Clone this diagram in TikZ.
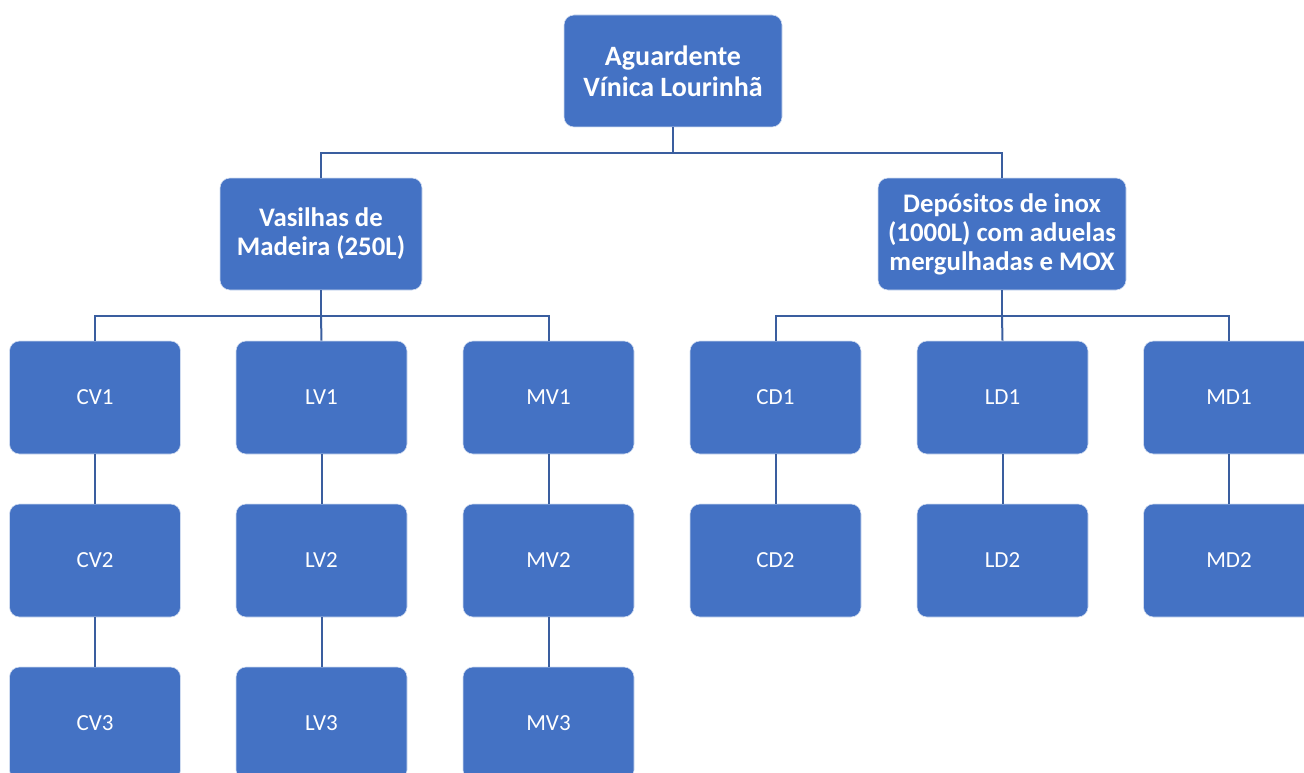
\documentclass[tikz,border=0pt]{standalone}
\usepackage{fontspec}
\setmainfont{Carlito}
\definecolor{boxblue}{HTML}{4472C4}
\definecolor{linkblue}{HTML}{3A5E9F}
\begin{document}
\begin{tikzpicture}[x=1pt,y=-1pt,
  box/.style={rectangle, rounded corners=10pt, fill=boxblue, draw=white!75!boxblue, line width=0.6pt,
    text=white, align=center, inner sep=0pt},
  head/.style={box, font=\fontsize{26.8}{29}\selectfont\bfseries, minimum height=112pt},
  leaf/.style={box, font=\fontsize{23}{28}\selectfont, minimum width=171pt, minimum height=113pt},
  link/.style={draw=linkblue, line width=2pt}]
\useasboundingbox (0,0) rectangle (1304,773);
\clip (0,0) rectangle (1304,773);
\node[head, minimum width=218pt, font=\fontsize{28}{31}\selectfont\bfseries] (top) at (673,71) {Aguardente\\V\'{\i}nica Lourinhã};
\node[head, minimum width=202pt] (vas) at (321,234) {Vasilhas de\\Madeira (250L)};
\node[head, minimum width=248pt] (dep) at (1002,234) {Depósitos de inox\\(1000L) com aduelas\\mergulhadas e MOX};
\node[leaf] (cv1) at (95,397.5) {CV1};
\node[leaf] (cv2) at (95,560.5) {CV2};
\node[leaf] (cv3) at (95,723.5) {CV3};
\node[leaf] (lv1) at (321.5,397.5) {LV1};
\node[leaf] (lv2) at (321.5,560.5) {LV2};
\node[leaf] (lv3) at (321.5,723.5) {LV3};
\node[leaf] (mv1) at (548.5,397.5) {MV1};
\node[leaf] (mv2) at (548.5,560.5) {MV2};
\node[leaf] (mv3) at (548.5,723.5) {MV3};
\node[leaf] (cd1) at (775.5,397.5) {CD1};
\node[leaf] (cd2) at (775.5,560.5) {CD2};
\node[leaf] (ld1) at (1002.5,397.5) {LD1};
\node[leaf] (ld2) at (1002.5,560.5) {LD2};
\node[leaf] (md1) at (1229,397.5) {MD1};
\node[leaf] (md2) at (1229,560.5) {MD2};
\draw[link] (top.south) -- ++(0,26) coordinate (t1) -| (vas.north);
\draw[link] (t1) -| (dep.north);
\draw[link] (vas.south) -- ++(0,26) coordinate (v1) -| (cv1.north);
\draw[link] (v1) -| (mv1.north);
\draw[link] (v1) -- (lv1.north);
\draw[link] (dep.south) -- ++(0,26) coordinate (d1) -| (cd1.north);
\draw[link] (d1) -| (md1.north);
\draw[link] (d1) -- (ld1.north);
\foreach \a/\b in {cv1/cv2,cv2/cv3,lv1/lv2,lv2/lv3,mv1/mv2,mv2/mv3,cd1/cd2,ld1/ld2,md1/md2}
  \draw[link] (\a.south) -- (\b.north);
\end{tikzpicture}
\end{document}
